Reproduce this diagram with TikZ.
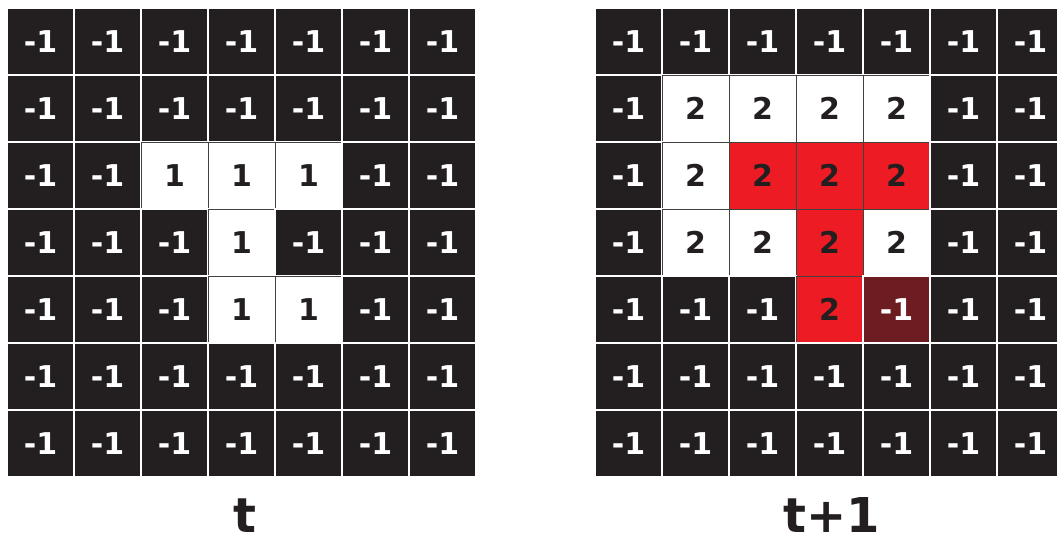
\documentclass[tikz,border=0pt]{standalone}
\usepackage{fontspec}
\setmainfont{DejaVu Sans}
\usepackage{xcolor}
\usepackage{tikz}
\definecolor{cellblack}{HTML}{231F20}
\definecolor{cellred}{HTML}{ED1C24}
\definecolor{celldark}{HTML}{6D1D21}
\tikzset{
  cellbase/.style={minimum width=33.5pt, minimum height=33.5pt, inner sep=0pt, font=\fontsize{15}{15}\selectfont\bfseries},
  cellbk/.style={cellbase, fill=cellblack, draw=white, line width=1pt, text=white},
  cellwt/.style={cellbase, fill=white, draw=cellblack!85, line width=0.5pt, text=cellblack},
  cellrd/.style={cellbase, fill=cellred, draw=cellblack!85, line width=0.5pt, text=cellblack},
  celldr/.style={cellbase, fill=celldark, draw=white, line width=1pt, text=white},
  steplbl/.style={font=\fontsize{24}{24}\selectfont\bfseries, text=cellblack, anchor=base, inner sep=0pt}
}
\begin{document}
\begin{tikzpicture}[x=0.5pt,y=-0.5pt]
\useasboundingbox (0,0) rectangle (1057,538);
% grid at time t
\foreach \row [count=\r] in {
  {-1/bk,-1/bk,-1/bk,-1/bk,-1/bk,-1/bk,-1/bk},
  {-1/bk,-1/bk,-1/bk,-1/bk,-1/bk,-1/bk,-1/bk},
  {-1/bk,-1/bk,1/wt,1/wt,1/wt,-1/bk,-1/bk},
  {-1/bk,-1/bk,-1/bk,1/wt,-1/bk,-1/bk,-1/bk},
  {-1/bk,-1/bk,-1/bk,1/wt,1/wt,-1/bk,-1/bk},
  {-1/bk,-1/bk,-1/bk,-1/bk,-1/bk,-1/bk,-1/bk},
  {-1/bk,-1/bk,-1/bk,-1/bk,-1/bk,-1/bk,-1/bk}}
  \foreach \v/\s [count=\c] in \row
    \node[cell\s] (l\r\c) at ({7+67*(\c-0.5)},{8+67*(\r-0.5)}) {\v};
% grid at time t+1
\foreach \row [count=\r] in {
  {-1/bk,-1/bk,-1/bk,-1/bk,-1/bk,-1/bk,-1/bk},
  {-1/bk,2/wt,2/wt,2/wt,2/wt,-1/bk,-1/bk},
  {-1/bk,2/wt,2/rd,2/rd,2/rd,-1/bk,-1/bk},
  {-1/bk,2/wt,2/wt,2/rd,2/wt,-1/bk,-1/bk},
  {-1/bk,-1/bk,-1/bk,2/rd,-1/dr,-1/bk,-1/bk},
  {-1/bk,-1/bk,-1/bk,-1/bk,-1/bk,-1/bk,-1/bk},
  {-1/bk,-1/bk,-1/bk,-1/bk,-1/bk,-1/bk,-1/bk}}
  \foreach \v/\s [count=\c] in \row
    \node[cell\s] (r\r\c) at ({595+67*(\c-0.5)},{8+67*(\r-0.5)}) {\v};
\node[steplbl] (tnow) at (245,532) {t};
\node[steplbl] (tnext) at (832,532) {t+1};
\end{tikzpicture}
\end{document}
